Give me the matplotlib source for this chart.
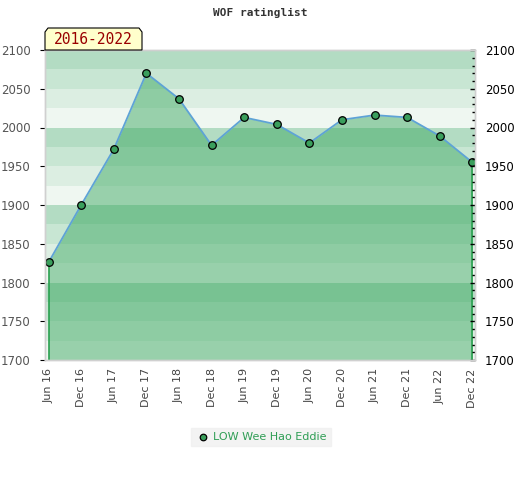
import matplotlib
matplotlib.use("Agg")
import matplotlib.pyplot as plt
from matplotlib.patches import Polygon
from matplotlib.ticker import MultipleLocator

labels = ["Jun 16", "Dec 16", "Jun 17", "Dec 17", "Jun 18", "Dec 18", "Jun 19",
          "Dec 19", "Jun 20", "Dec 20", "Jun 21", "Dec 21", "Jun 22", "Dec 22"]
ratings = [1826, 1900, 1972, 2070, 2037, 1977, 2013, 2004, 1980, 2010, 2016, 2013, 1989, 1955]
series_name = "LOW Wee Hao Eddie"
title = "WOF ratinglist"
period = "2016-2022"
ymin, ymax = 1700, 2100

band_colors = ["#b3dcc3", "#c8e6d3", "#dceee2", "#eff7f1"]
fill_color = "#37a65c"
marker_color = "#3a9f5c"
line_color = "#5ea3d6"

fig = plt.figure(figsize=(5.2, 4.8), dpi=100)
ax = fig.add_axes([45/520, 120/480, 430/520, 310/480])

x = list(range(len(labels)))

# background bands
for i, lo in enumerate(range(ymax - 25, ymin - 1, -25)):
    ax.axhspan(lo, lo + 25, color=band_colors[i % 4], lw=0, zorder=0)

ax.fill_between(x, ratings, ymin, color=fill_color, alpha=0.47, lw=0, zorder=1)
ax.plot(x, ratings, color=line_color, lw=1.3, zorder=2)
ax.vlines([x[0], x[-1]], ymin, [ratings[0], ratings[-1]], color="#2aa050", lw=1.2, zorder=2)
ax.scatter(x, ratings, s=30, color=marker_color, edgecolor="black", linewidth=0.9, zorder=3)

ax.set_xlim(-0.11, len(labels) - 1 + 0.08)
ax.set_ylim(ymin, ymax)
ax.set_xticks(x)
ax.set_xticklabels(labels, rotation=90, fontsize=8, color="#444444")
ax.tick_params(axis="x", length=0, pad=6)
ax.yaxis.set_major_locator(MultipleLocator(50))
ax.tick_params(axis="y", which="both", left=False, right=False, labelleft=True,
               labelsize=8.5, labelcolor="#555555", pad=7)

ax2 = ax.twinx()
ax2.set_ylim(ymin, ymax)
ax2.yaxis.set_major_locator(MultipleLocator(50))
ax2.yaxis.set_minor_locator(MultipleLocator(10))
ax2.tick_params(axis="y", which="both", left=False, right=True, direction="in",
                colors="black", labelsize=8.5, pad=7)
ax2.tick_params(axis="y", which="major", length=3.5, width=1)
ax2.tick_params(axis="y", which="minor", length=2, width=1)

for a in (ax, ax2):
    for s in a.spines.values():
        s.set_color("#d0d0d0")
        s.set_linewidth(1)

fig.text(0.5, 1 - 13/480, title, ha="center", va="center", family="DejaVu Sans Mono",
         fontsize=8, fontweight="bold", color="#333333")

# period tag
tagpts = [[45, 430], [45, 448], [48, 452], [139, 452], [142, 448], [142, 430]]
tag = Polygon([[a/520, b/480] for a, b in tagpts], closed=True, transform=fig.transFigure,
              facecolor="#ffffcc", edgecolor="black", lw=0.8, zorder=0)
fig.patches.append(tag)
fig.text(93/520, 1 - 40/480, period, ha="center", va="center", family="DejaVu Sans Mono",
         fontsize=10.5, color="#990000")

h = ax.scatter([], [], s=22, color=marker_color, edgecolor="black", linewidth=0.9)
leg = fig.legend([h], [series_name], loc="center", bbox_to_anchor=(261/520, 43/480),
                 frameon=True, fontsize=8, handletextpad=0.3, borderpad=0.4,
                 fancybox=False, handlelength=1.2)
leg.get_frame().set_facecolor("#f0f0f0")
leg.get_frame().set_edgecolor("#f0f0f0")
for t in leg.get_texts():
    t.set_color("#2f9e55")

fig.savefig("out.png", dpi=100)
